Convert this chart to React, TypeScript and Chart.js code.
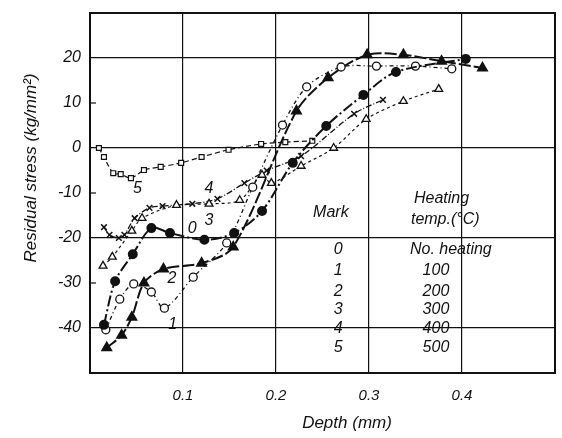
import React, { useEffect, useRef } from "react";
import { Chart, registerables } from "chart.js";
Chart.register(...registerables);

// Depth (mm) and residual stress (kg/mm^2) for each mark
const depth0 = [0.015, 0.027, 0.046, 0.066, 0.086, 0.123, 0.155, 0.185, 0.218, 0.254, 0.294, 0.329, 0.404];
const stress0 = [-39.3, -29.6, -23.6, -17.8, -18.9, -20.4, -18.9, -14, -3.3, 4.9, 11.8, 16.9, 19.8];

const depth1 = [0.017, 0.032, 0.047, 0.066, 0.08, 0.111, 0.147, 0.175, 0.207, 0.233, 0.27, 0.308, 0.35, 0.389];
const stress1 = [-40.4, -33.6, -30.2, -32, -35.6, -28.7, -21.1, -8.7, 5.1, 13.6, 18, 18.2, 18.2, 17.6];

const depth2 = [0.018, 0.034, 0.045, 0.058, 0.079, 0.12, 0.154, 0.222, 0.256, 0.298, 0.337, 0.378, 0.422];
const stress2 = [-44.4, -41.6, -37.6, -30, -26.9, -25.6, -22, 8.2, 15.6, 20.7, 20.7, 19.3, 17.8];

const depth3 = [0.014, 0.024, 0.045, 0.056, 0.093, 0.128, 0.161, 0.185, 0.195, 0.227, 0.262, 0.297, 0.337, 0.375];
const stress3 = [-26.2, -24.2, -18.4, -15.6, -12.7, -12.4, -11.6, -6, -7.8, -4, 0, 6.4, 10.4, 13.1];

const depth4 = [0.015, 0.021, 0.031, 0.037, 0.048, 0.064, 0.078, 0.11, 0.137, 0.166, 0.19, 0.227, 0.284, 0.315];
const stress4 = [-17.6, -19.3, -20, -19.3, -15.6, -13.3, -12.9, -12.4, -11.3, -7.8, -5, -1.8, 7.6, 10.7];

const depth5 = [0.0096, 0.015, 0.025, 0.033, 0.044, 0.058, 0.076, 0.098, 0.12, 0.149, 0.184, 0.21, 0.239];
const stress5 = [0, -2, -5.6, -5.8, -6.7, -4.9, -4.2, -3.3, -2, -0.4, 0.9, 1.3, 1.6];

const marks = ["0", "1", "2", "3", "4", "5"];
const heatingTemps = ["No. heating", "100", "200", "300", "400", "500"];
const xTickLabels = [0.1, 0.2, 0.3, 0.4];
const yTickLabels = [20, 10, 0, -10, -20, -30, -40];

// curve number annotations (data coords)
const curveLabelText = ["5", "4", "3", "0", "2", "1"];
const curveLabelX = [0.051, 0.128, 0.128, 0.11, 0.088, 0.089];
const curveLabelY = [-9, -8.9, -16.2, -17.8, -28.9, -39.3];

const FONT = "'Liberation Sans', 'DejaVu Sans', sans-serif";
const INK = "#111";

function pts(xs: number[], ys: number[]) {
  return xs.map((x, i) => ({ x, y: ys[i] }));
}

const annotate = {
  id: "annotate",
  afterDatasetsDraw(chart: any) {
    const { ctx, chartArea: a, scales } = chart;
    const xs = scales.x;
    const ys = scales.y;
    ctx.save();
    // frame
    ctx.strokeStyle = INK;
    ctx.lineWidth = 2;
    ctx.strokeRect(a.left, a.top, a.right - a.left, a.bottom - a.top);
    // minor inner ticks on left
    ctx.lineWidth = 1.2;
    [10, -10, -30].forEach((v) => {
      const py = ys.getPixelForValue(v);
      ctx.beginPath();
      ctx.moveTo(a.left, py);
      ctx.lineTo(a.left + 6, py);
      ctx.stroke();
    });
    ctx.fillStyle = INK;
    ctx.textAlign = "center";
    ctx.textBaseline = "middle";
    // curve labels
    ctx.font = `italic 16px ${FONT}`;
    curveLabelText.forEach((t, i) => {
      ctx.fillText(t, xs.getPixelForValue(curveLabelX[i]), ys.getPixelForValue(curveLabelY[i]));
    });
    // legend table
    ctx.font = `italic 16px ${FONT}`;
    ctx.fillText("Mark", xs.getPixelForValue(0.259), ys.getPixelForValue(-14.4));
    ctx.fillText("Heating", xs.getPixelForValue(0.378), ys.getPixelForValue(-11.3));
    ctx.fillText("temp.(\u00B0C)", xs.getPixelForValue(0.382), ys.getPixelForValue(-15.8));
    const rowY = [-22.5, -27.2, -31.8, -36, -40.1, -44.4];
    marks.forEach((m, i) => {
      const py = ys.getPixelForValue(rowY[i]);
      ctx.fillText(m, xs.getPixelForValue(0.267), py);
      const tx = i === 0 ? 0.388 : 0.372;
      ctx.fillText(heatingTemps[i], xs.getPixelForValue(tx), py);
    });
    // axis titles
    ctx.font = `italic 17px ${FONT}`;
    ctx.fillText("Depth (mm)", 347, 423);
    ctx.save();
    ctx.translate(31, 168);
    ctx.rotate(-Math.PI / 2);
    ctx.fillText("Residual stress (kg/mm\u00B2)", 0, 0);
    ctx.restore();
    ctx.restore();
  },
};

export default function App() {
  const ref = useRef<HTMLCanvasElement | null>(null);
  useEffect(() => {
    document.body.style.margin = "0";
    document.body.style.background = "#fff";
    const canvas = ref.current;
    if (!canvas) return;
    const common = { borderColor: INK, pointBorderColor: INK, tension: 0.3, borderWidth: 1.6 };
    const chart = new Chart(canvas, {
      type: "line",
      data: {
        datasets: [
          { ...common, label: "0", data: pts(depth0, stress0), borderDash: [11, 3, 2, 3], borderWidth: 2, pointStyle: "circle", pointRadius: 4, pointBackgroundColor: INK },
          { ...common, label: "1", data: pts(depth1, stress1), borderDash: [4, 3, 1, 3], borderWidth: 1.3, pointStyle: "circle", pointRadius: 4, pointBackgroundColor: "#fff", pointBorderWidth: 1.3 },
          { ...common, label: "2", data: pts(depth2, stress2), borderDash: [12, 3], borderWidth: 2, pointStyle: "triangle", pointRadius: 5, pointBackgroundColor: INK },
          { ...common, label: "3", data: pts(depth3, stress3), borderDash: [3, 3], borderWidth: 1.2, pointStyle: "triangle", pointRadius: 4.5, pointBackgroundColor: "#fff", pointBorderWidth: 1.3 },
          { ...common, label: "4", data: pts(depth4, stress4), borderDash: [6, 2, 1, 2], borderWidth: 1.3, pointStyle: "crossRot", pointRadius: 4, pointBorderWidth: 1.5 },
          { ...common, label: "5", data: pts(depth5, stress5), borderDash: [5, 3], borderWidth: 1.2, pointStyle: "rect", pointRadius: 3.5, pointBackgroundColor: "#fff", pointBorderWidth: 1.2 },
        ],
      },
      options: {
        responsive: false,
        animation: false,
        devicePixelRatio: 1,
        layout: { padding: { top: 13, right: 5, left: 0, bottom: 0 } },
        plugins: { legend: { display: false }, tooltip: { enabled: false } },
        scales: {
          x: {
            type: "linear",
            min: 0,
            max: 0.5,
            afterFit: (s: any) => { s.height = 65; s.paddingLeft = 0; s.paddingRight = 0; },
            ticks: {
              stepSize: 0.1,
              padding: 14,
              color: INK,
              font: { family: FONT, size: 15, style: "italic" },
              callback: (v: any) => {
                const r = Math.round(Number(v) * 10) / 10;
                return xTickLabels.includes(r) ? r.toFixed(1) : "";
              },
            },
            grid: {
              drawTicks: false,
              lineWidth: 1.2,
              color: (c: any) => {
                const r = Math.round(Number(c.tick?.value) * 10) / 10;
                return xTickLabels.includes(r) ? INK : "rgba(0,0,0,0)";
              },
            },
            border: { display: false },
          },
          y: {
            min: -50,
            max: 30,
            afterFit: (s: any) => { s.width = 90; s.paddingTop = 0; s.paddingBottom = 0; },
            ticks: {
              stepSize: 10,
              padding: 9,
              color: INK,
              font: { family: FONT, size: 16, style: "italic" },
              callback: (v: any) => (yTickLabels.includes(Number(v)) ? String(v) : ""),
            },
            grid: {
              drawTicks: false,
              lineWidth: 1.2,
              color: (c: any) => {
                const v = Number(c.tick?.value);
                return v === 20 || v === 0 || v === -20 || v === -40 ? INK : "rgba(0,0,0,0)";
              },
            },
            border: { display: false },
          },
        },
      },
      plugins: [annotate],
    });
    return () => chart.destroy();
  }, []);
  return (
    <div style={{ width: 562, height: 438, background: "#fff" }}>
      <canvas ref={ref} width={562} height={438} />
    </div>
  );
}
